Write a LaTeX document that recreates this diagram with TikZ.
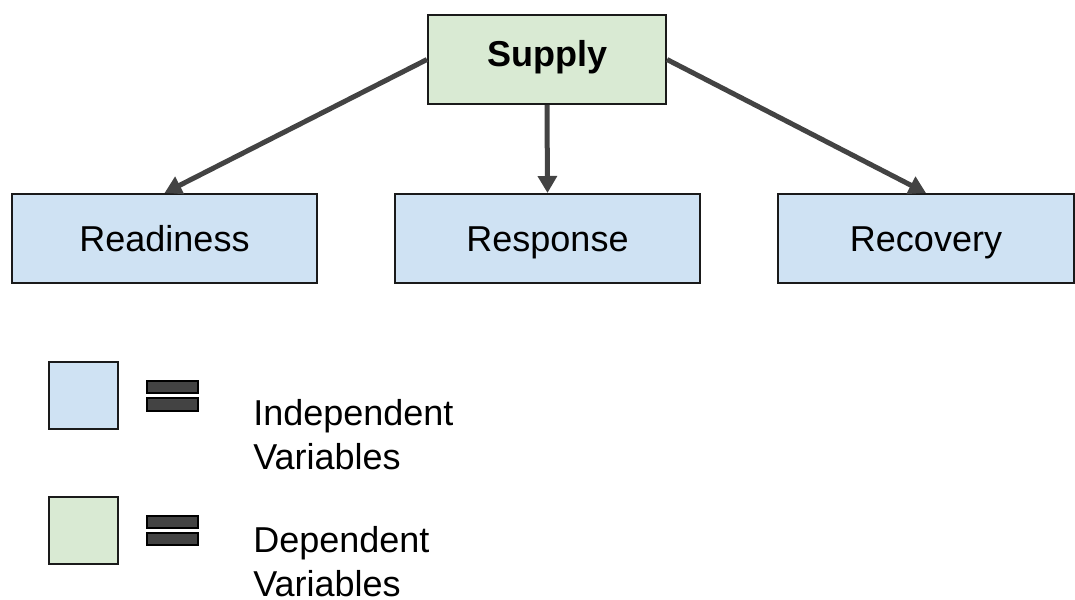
\documentclass[tikz,border=0pt]{standalone}
\usepackage{fontspec}
\setmainfont{Liberation Sans}
\usetikzlibrary{arrows.meta, positioning}
\definecolor{indepblue}{HTML}{CFE2F3}
\definecolor{depgreen}{HTML}{D9EAD3}
\definecolor{arrowgray}{HTML}{434343}
\definecolor{edgeblack}{HTML}{1A1A1A}

\tikzset{
  varbox/.style={draw=edgeblack, line width=1.5pt, fill=indepblue, inner sep=0pt,
    minimum width=228.75pt, minimum height=66.75pt, text height=20pt, text depth=0pt,
    font=\fontsize{27}{33}\selectfont},
  flowarrow/.style={draw=arrowgray, line width=3.75pt, -{Triangle[length=12.75pt, width=14pt]}},
  keytext/.style={anchor=north west, inner sep=0pt, align=left, font=\fontsize{27}{33}\selectfont},
  eqbar/.style={draw=black, line width=1.2pt, fill=arrowgray}
}

\begin{document}
\begin{tikzpicture}[x=0.75pt, y=-0.75pt]
  \useasboundingbox (0,0) rectangle (1075,600);

  % Variable dependiente arriba
  \node[varbox, fill=depgreen, minimum width=178.5pt, text depth=10pt,
    font=\fontsize{27}{33}\selectfont\bfseries] (supply) at (547,59.5) {Supply};

  % Variables independientes
  \node[varbox] (readiness) at (164.5,238.5) {Readiness};
  \node[varbox] (response) at (547.5,238.5) {Response};
  \node[varbox, minimum width=222pt] (recovery) at (926,238.5) {Recovery};

  % Flechas
  \draw[flowarrow] (supply.west) -- (readiness.north);
  \draw[flowarrow] (supply.south) -- (response.north);
  \draw[flowarrow] (supply.east) -- (recovery.north);

  % Leyenda: azul
  \draw[edgeblack, line width=1.5pt, fill=indepblue] (49,362) rectangle (118,429);
  \draw[eqbar] (147,381) rectangle (198,393);
  \draw[eqbar] (147,398) rectangle (198,411);
  \node[keytext] (indeplabel) at (253,399) {Independent\\Variables};

  % Leyenda: verde
  \draw[edgeblack, line width=1.5pt, fill=depgreen] (49,497) rectangle (118,564);
  \draw[eqbar] (147,516) rectangle (198,528);
  \draw[eqbar] (147,533) rectangle (198,545);
  \node[keytext] (deplabel) at (253,526) {Dependent\\Variables};
\end{tikzpicture}
\end{document}
